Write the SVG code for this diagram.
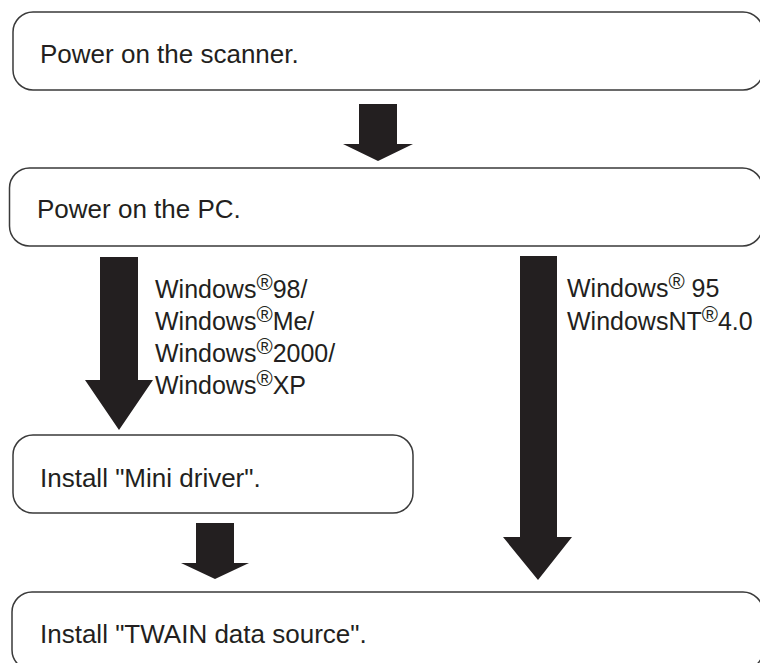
<svg xmlns="http://www.w3.org/2000/svg" width="760" height="663" viewBox="0 0 760 663">
  <style>
    .box { fill: #ffffff; stroke: #3a3a3a; stroke-width: 1.5; }
    .t { font-family: "Liberation Sans", Arial, sans-serif; font-size: 26px; fill: #231f20; }
    .lbl { font-family: "Liberation Sans", Arial, sans-serif; font-size: 25px; fill: #231f20; }
    .reg { font-size: 22px; }
    .arrow { fill: #231f20; stroke: none; }
  </style>
  <rect width="760" height="663" fill="#ffffff"/>

  <g id="node-scanner">
    <rect class="box" x="13" y="12" width="750" height="78" rx="20" ry="20"/>
    <text class="t" x="40" y="63">Power on the scanner.</text>
  </g>

  <g id="node-pc">
    <rect class="box" x="9.5" y="168" width="753" height="78" rx="20" ry="20"/>
    <text class="t" x="37" y="218">Power on the PC.</text>
  </g>

  <g id="node-mini">
    <rect class="box" x="13" y="435" width="400" height="78" rx="20" ry="20"/>
    <text class="t" x="40" y="487">Install "Mini driver".</text>
  </g>

  <g id="node-twain">
    <rect class="box" x="12" y="592" width="751" height="78" rx="20" ry="20"/>
    <text class="t" x="40" y="643">Install "TWAIN data source".</text>
  </g>

  <g id="connectors">
    <polygon class="arrow" points="359,104 397,104 397,144 413,144 378,161 343,144 359,144"/>
    <polygon class="arrow" points="100,257 138,257 138,380 153,380 119,430 85,380 100,380"/>
    <polygon class="arrow" points="520,256 557,256 557,537 572,537 538,580 503,537 520,537"/>
    <polygon class="arrow" points="196,523 234,523 234,563 249,563 215,579 181,563 196,563"/>
  </g>

  <g id="labels-left">
    <text class="lbl" x="155" y="298">Windows<tspan class="reg" dy="-8">®</tspan><tspan dy="8">98/</tspan></text>
    <text class="lbl" x="155" y="330">Windows<tspan class="reg" dy="-8">®</tspan><tspan dy="8">Me/</tspan></text>
    <text class="lbl" x="155" y="362">Windows<tspan class="reg" dy="-8">®</tspan><tspan dy="8">2000/</tspan></text>
    <text class="lbl" x="155" y="394">Windows<tspan class="reg" dy="-8">®</tspan><tspan dy="8">XP</tspan></text>
  </g>

  <g id="labels-right">
    <text class="lbl" x="567" y="297">Windows<tspan class="reg" dy="-8">®</tspan><tspan dy="8"> 95</tspan></text>
    <text class="lbl" x="567" y="330">WindowsNT<tspan class="reg" dy="-8">®</tspan><tspan dy="8">4.0</tspan></text>
  </g>
</svg>
